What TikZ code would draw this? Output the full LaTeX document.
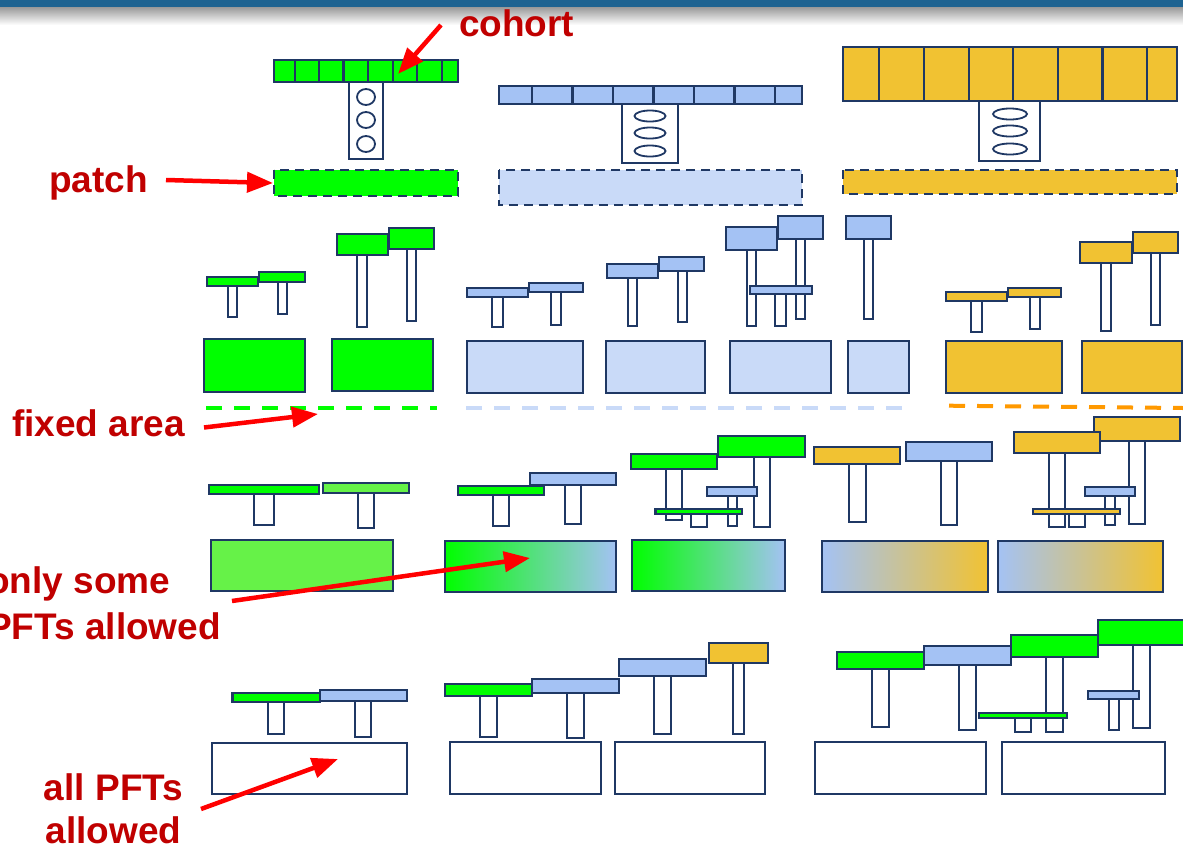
\documentclass[tikz,border=0pt]{standalone}
\usepackage{fontspec}
\setsansfont{Liberation Sans}
\usetikzlibrary{arrows.meta}

\definecolor{navy}{RGB}{31,56,100}
\definecolor{pftgreen}{RGB}{0,255,0}
\definecolor{pftlime}{RGB}{102,242,72}
\definecolor{pftblue}{RGB}{164,194,244}
\definecolor{patchblue}{RGB}{201,218,248}
\definecolor{pftyellow}{RGB}{241,194,50}
\definecolor{fixorange}{RGB}{255,153,0}
\definecolor{labelred}{RGB}{192,0,0}
\definecolor{barblue}{RGB}{30,99,145}

% crown colour, crown x1 ytop x2 ybot, stem x1 x2 ybot
\newcommand{\plantcohort}[8]{%
  \draw[stem] (#6,#5) rectangle (#7,#8);
  \draw[crown,fill=#1] (#2,#3) rectangle (#4,#5);}

\begin{document}
\begin{tikzpicture}[x=1pt,y=-1pt,
  crown/.style={draw=navy,line width=2.2pt},
  stem/.style={draw=navy,fill=white,line width=2pt},
  patch/.style={draw=navy,line width=2.2pt},
  oldpatch/.style={patch,dash pattern=on 9pt off 6pt},
  fixline/.style={line width=4pt,dash pattern=on 16pt off 12pt},
  pointer/.style={draw=red,line width=4.5pt,-{Triangle[length=26pt,width=20pt]}},
  lbl/.style={text=labelred,font=\sffamily\bfseries\fontsize{37}{46}\selectfont,inner sep=0pt}]
  \useasboundingbox (0,0) rectangle (1183,846);
  \fill[white] (0,0) rectangle (1183,846);
  \fill[barblue] (0,0) rectangle (1183,7);
  \shade[top color=black!40,bottom color=white] (0,7) rectangle (1183,25);

  % top row: cohorts and their patch
  \draw[stem] (349,82) rectangle (383,159);
  \foreach \yc in {97,120,144} \draw[navy,line width=1.8pt] (366,\yc) ellipse [x radius=9pt,y radius=8pt];
  \draw[crown,fill=pftgreen] (274,60) rectangle (458,82);
  \foreach \xd in {295,319,343.5,368,393,417,442} \draw[crown] (\xd,60) -- (\xd,82);
  \draw[oldpatch,fill=pftgreen] (274,170) rectangle (458,196);

  \draw[stem] (622,104) rectangle (678,163);
  \foreach \yc in {116,133,151} \draw[navy,line width=1.8pt] (650,\yc) ellipse [x radius=15.5pt,y radius=5.5pt];
  \draw[crown,fill=pftblue] (499,86) rectangle (802,104);
  \foreach \xd in {532,572.5,613,653.5,694,734.5,775} \draw[crown] (\xd,86) -- (\xd,104);
  \draw[oldpatch,fill=patchblue] (499,170) rectangle (802,205);

  \draw[stem] (979,101) rectangle (1040,161);
  \foreach \yc in {114,131,149} \draw[navy,line width=1.8pt] (1010,\yc) ellipse [x radius=17pt,y radius=5.5pt];
  \draw[crown,fill=pftyellow] (843,47) rectangle (1177,101);
  \foreach \xd in {879,924,969,1013,1058,1102.5,1147} \draw[crown] (\xd,47) -- (\xd,101);
  \draw[oldpatch,fill=pftyellow] (843,170) rectangle (1177,194);

  % fixed-area patches, one PFT each
  \plantcohort{pftgreen}{207}{277}{258}{286}{228}{237}{317}
  \plantcohort{pftgreen}{259}{272}{305}{282}{278}{287}{314}
  \draw[patch,fill=pftgreen] (204,339) rectangle (305,392);
  \plantcohort{pftgreen}{337}{234}{388}{255}{357}{367}{327}
  \plantcohort{pftgreen}{389}{228}{434}{249}{407}{416}{321}
  \draw[patch,fill=pftgreen] (332,339) rectangle (433,391);

  \plantcohort{pftblue}{467}{288}{528}{297}{492}{503}{327}
  \plantcohort{pftblue}{529}{283}{583}{292}{551}{561}{325}
  \draw[patch,fill=patchblue] (467,341) rectangle (583,393);
  \plantcohort{pftblue}{607}{264}{658}{278}{628}{637}{326}
  \plantcohort{pftblue}{659}{257}{704}{271}{678}{687}{322}
  \draw[patch,fill=patchblue] (606,341) rectangle (705,393);
  \plantcohort{pftblue}{726}{227}{777}{250}{747}{756}{326}
  \plantcohort{pftblue}{778}{216}{823}{239}{796}{805}{319}
  \plantcohort{pftblue}{750}{286}{812}{294}{775}{786}{326}
  \draw[patch,fill=patchblue] (730,341) rectangle (831,393);
  \plantcohort{pftblue}{846}{216}{891}{239}{864}{873}{319}
  \draw[patch,fill=patchblue] (848,341) rectangle (909,393);

  \plantcohort{pftyellow}{946}{292}{1007}{301}{971}{982}{332}
  \plantcohort{pftyellow}{1008}{288}{1061}{297}{1030}{1040}{329}
  \draw[patch,fill=pftyellow] (946,341) rectangle (1062,393);
  \plantcohort{pftyellow}{1080}{242}{1132}{263}{1101}{1111}{331}
  \plantcohort{pftyellow}{1133}{232}{1178}{253}{1151}{1160}{325}
  \draw[patch,fill=pftyellow] (1082,341) rectangle (1182,393);

  \draw[fixline,pftgreen] (206,407.5) -- (437,407.5);
  \draw[fixline,patchblue] (466,407.5) -- (902,407.5);
  \draw[fixline,fixorange] (949,405.7) -- (1183,408);

  % some PFTs allowed
  \plantcohort{pftgreen}{209}{485}{319}{494}{254}{274}{525}
  \plantcohort{pftlime}{323}{483}{409}{493}{358}{374}{528}
  \draw[patch,fill=pftlime] (211,540) rectangle (393,591);

  \plantcohort{pftgreen}{458}{486}{544}{495}{493}{509}{526}
  \plantcohort{pftblue}{530}{473}{616}{485}{565}{581}{524}
  \shadedraw[patch,left color=pftgreen,right color=pftblue] (445,541) rectangle (616,592);

  \plantcohort{pftgreen}{631}{454}{717}{469}{666}{682}{520}
  \plantcohort{pftgreen}{718}{436}{805}{457}{754}{770}{527}
  \plantcohort{pftblue}{707}{487}{757}{496}{728}{737}{526}
  \plantcohort{pftgreen}{655.5}{509}{742}{514}{691}{707}{527}
  \shadedraw[patch,left color=pftgreen,right color=pftblue] (632,540) rectangle (785,591);

  \plantcohort{pftyellow}{814}{447}{900}{464}{849}{866}{522}
  \plantcohort{pftblue}{906}{442}{992}{461}{941}{957}{525}
  \shadedraw[patch,left color=pftblue,right color=pftyellow] (822,541) rectangle (988,592);

  \plantcohort{pftyellow}{1094}{417}{1180}{441}{1129}{1145}{524}
  \plantcohort{pftyellow}{1014}{432}{1100}{453}{1049}{1065}{527}
  \plantcohort{pftblue}{1085}{487}{1135}{496}{1105}{1115}{525}
  \plantcohort{pftyellow}{1033}{509}{1120}{514}{1068.5}{1084.5}{527}
  \shadedraw[patch,left color=pftblue,right color=pftyellow] (998,541) rectangle (1163,592);

  % all PFTs allowed
  \plantcohort{pftgreen}{232.5}{693}{320}{702}{268}{284}{734}
  \plantcohort{pftblue}{320}{690}{407}{701}{355}{371}{737}
  \draw[patch,fill=white] (212,743) rectangle (407,794);

  \plantcohort{pftgreen}{445}{684}{532}{696}{480}{496.5}{737}
  \plantcohort{pftblue}{532}{679}{619}{693}{567}{584}{738}
  \draw[patch,fill=white] (450,742) rectangle (601,794);
  \plantcohort{pftblue}{619}{659}{706}{676}{654}{671}{734}
  \plantcohort{pftyellow}{709}{643}{768}{663}{733}{744}{734}
  \draw[patch,fill=white] (615,742) rectangle (765,794);

  \plantcohort{pftgreen}{837}{652}{924}{669}{872}{889}{727}
  \plantcohort{pftblue}{924}{646}{1011}{665}{959}{976}{730}
  \draw[patch,fill=white] (815,742) rectangle (986,794);
  \plantcohort{pftgreen}{1011}{635}{1098}{657}{1046}{1063}{732}
  \plantcohort{pftgreen}{1098}{620}{1184}{645}{1133}{1150}{728}
  \plantcohort{pftblue}{1088}{691}{1139}{699}{1109}{1119}{730}
  \plantcohort{pftgreen}{979}{713}{1067}{718}{1015}{1031}{732}
  \draw[patch,fill=white] (1002,742) rectangle (1165,794);

  % labels
  \node[lbl,anchor=base west] (cohortlbl) at (459,36) {cohort};
  \node[lbl,anchor=base west] (patchlbl) at (49,192.5) {patch};
  \node[lbl,anchor=base west] (fixedlbl) at (12,436.5) {fixed area};
  \node[lbl,anchor=north west,align=left] (somelbl) at (-13,566.5) {only some\\PFTs allowed};
  \node[lbl,anchor=north,align=center,font=\sffamily\bfseries\fontsize{37}{43}\selectfont] (alllbl) at (113.5,773.5) {all PFTs\\allowed};

  \coordinate (cohortfrom) at (441,25);   \coordinate (cohortto) at (398,74);
  \coordinate (patchfrom) at (166,180);   \coordinate (patchto) at (273,183);
  \coordinate (fixedfrom) at (204,427.5); \coordinate (fixedto) at (318,414);
  \coordinate (somefrom) at (232,601);    \coordinate (someto) at (530,558);
  \coordinate (allfrom) at (201,809);     \coordinate (allto) at (338,759);
  \draw[pointer] (cohortfrom) -- (cohortto);
  \draw[pointer] (patchfrom) -- (patchto);
  \draw[pointer] (fixedfrom) -- (fixedto);
  \draw[pointer] (somefrom) -- (someto);
  \draw[pointer] (allfrom) -- (allto);
\end{tikzpicture}
\end{document}
